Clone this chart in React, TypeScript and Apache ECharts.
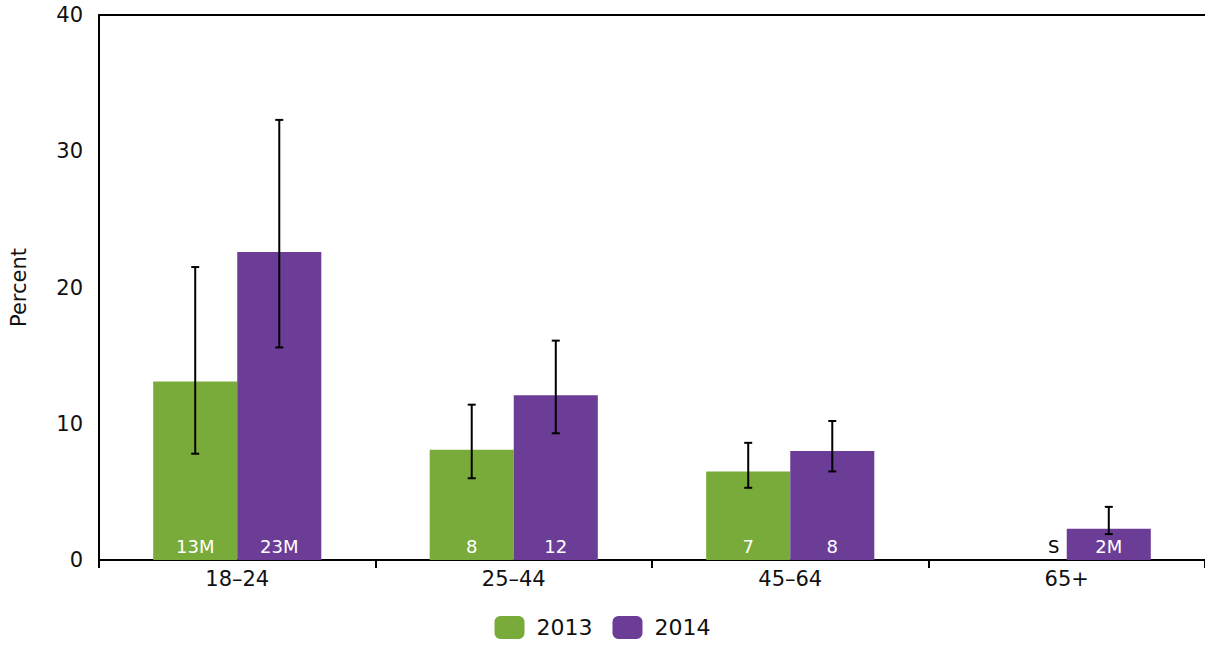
import React, { useEffect, useRef } from "react";
import * as echarts from "echarts";

const categories = ["18–24", "25–44", "45–64", "65+"];
const seriesNames = ["2013", "2014"];
const values2013: (number | null)[] = [13.1, 8.1, 6.5, 0];
const values2014: number[] = [22.6, 12.1, 8.0, 2.3];
const low2013: (number | null)[] = [7.8, 6.0, 5.3, null];
const high2013: (number | null)[] = [21.5, 11.4, 8.6, null];
const low2014: number[] = [15.6, 9.3, 6.5, 1.9];
const high2014: number[] = [32.3, 16.1, 10.2, 3.9];
const labels2013 = ["13M", "8", "7", "S"];
const labels2014 = ["23M", "12", "8", "2M"];
const yTicks = [0, 10, 20, 30, 40];

const GREEN = "#79ab3a";
const PURPLE = "#6b3d97";
const FONT = "DejaVu Sans";
const BAR_FRAC = 0.304;

export default function App() {
  const ref = useRef<HTMLDivElement>(null);
  useEffect(() => {
    if (!ref.current) return;
    const chart = echarts.init(ref.current, undefined, { renderer: "svg" });

    const errData = (lows: (number | null)[], highs: (number | null)[], side: number) =>
      categories.map((_, i) => [i, lows[i], highs[i], side]).filter((d) => d[1] != null);

    const renderErr = (params: any, api: any) => {
      const idx = api.value(0);
      const lo = api.coord([idx, api.value(1)]);
      const hi = api.coord([idx, api.value(2)]);
      const side = api.value(3);
      const bw = api.size([1, 0])[0] * BAR_FRAC;
      const x = lo[0] + side * bw / 2;
      const cap = 4;
      const style = { stroke: "#000", lineWidth: 2 };
      return {
        type: "group",
        children: [
          { type: "line", shape: { x1: x, y1: lo[1], x2: x, y2: hi[1] }, style },
          { type: "line", shape: { x1: x - cap, y1: hi[1], x2: x + cap, y2: hi[1] }, style },
          { type: "line", shape: { x1: x - cap, y1: lo[1], x2: x + cap, y2: lo[1] }, style },
        ],
      };
    };

    const barLabel = {
      show: true,
      position: "insideBottom" as const,
      distance: 5,
      color: "#fff",
      fontSize: 18,
      fontFamily: FONT,
    };

    chart.setOption({
      animation: false,
      textStyle: { fontFamily: FONT },
      grid: { left: 98, right: 0, top: 15, bottom: 87, containLabel: false },
      legend: {
        data: seriesNames,
        top: 616,
        left: "center",
        padding: 0,
        itemWidth: 30,
        itemHeight: 23,
        itemGap: 20,
        icon: "roundRect",
        textStyle: {
          fontSize: 22,
          lineHeight: 23,
          color: "#111",
          fontFamily: FONT,
          padding: [0, 0, 0, 7],
        },
      },
      xAxis: [
        {
          type: "category",
          data: categories,
          axisLine: { lineStyle: { color: "#000", width: 2 } },
          axisTick: { show: true, length: 8, lineStyle: { color: "#000", width: 2 } },
          axisLabel: { fontSize: 21, color: "#111", margin: 8, fontFamily: FONT },
        },
        {
          type: "category",
          data: categories,
          position: "top",
          axisLine: { show: true, lineStyle: { color: "#000", width: 2 } },
          axisTick: { show: false },
          axisLabel: { show: false },
        },
      ],
      yAxis: {
        type: "value",
        min: yTicks[0],
        max: yTicks[yTicks.length - 1],
        interval: 10,
        name: "Percent",
        nameLocation: "middle",
        nameGap: 70,
        nameRotate: 90,
        nameTextStyle: { fontSize: 21, color: "#111", fontFamily: FONT },
        axisLine: { show: true, lineStyle: { color: "#000", width: 2 } },
        axisTick: { show: false },
        splitLine: { show: false },
        axisLabel: { fontSize: 21, color: "#111", margin: 16, fontFamily: FONT },
      },
      series: [
        {
          name: seriesNames[0],
          type: "bar",
          barWidth: (BAR_FRAC * 100).toFixed(1) + "%",
          barGap: "0%",
          itemStyle: { color: GREEN },
          data: values2013.map((v, i) =>
            labels2013[i] === "S"
              ? { value: v, label: { ...barLabel, color: "#000", offset: [29, 0], formatter: labels2013[i] } }
              : { value: v, label: { ...barLabel, formatter: labels2013[i] } }
          ),
          z: 2,
        },
        {
          name: seriesNames[1],
          type: "bar",
          barWidth: (BAR_FRAC * 100).toFixed(1) + "%",
          barGap: "0%",
          itemStyle: { color: PURPLE },
          data: values2014.map((v, i) => ({ value: v, label: { ...barLabel, formatter: labels2014[i] } })),
          z: 2,
        },
        {
          type: "custom",
          renderItem: renderErr,
          data: errData(low2013, high2013, -1),
          z: 5,
          silent: true,
        },
        {
          type: "custom",
          renderItem: renderErr,
          data: errData(low2014, high2014, 1),
          z: 5,
          silent: true,
        },
      ],
    });
    return () => chart.dispose();
  }, []);
  return (
    <div
      ref={ref}
      style={{ position: "fixed", left: 0, top: 0, width: 1205, height: 647, background: "#fff" }}
    />
  );
}
